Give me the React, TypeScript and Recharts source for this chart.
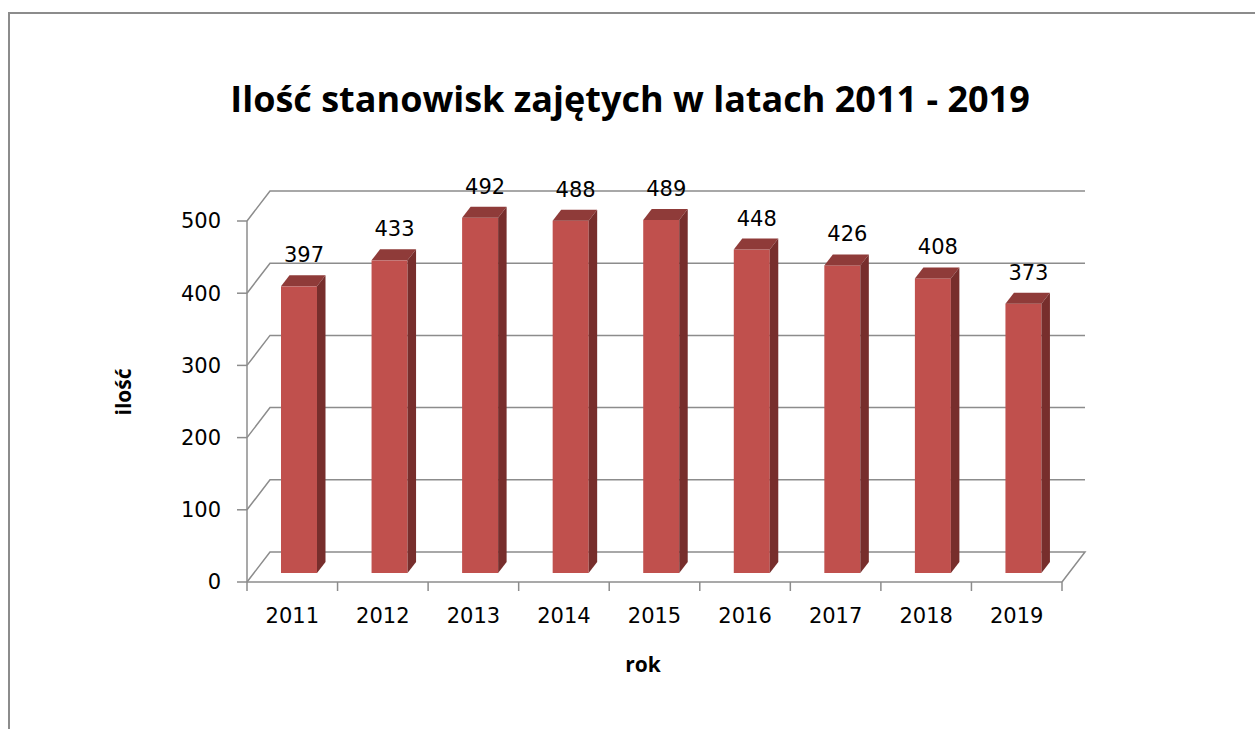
import React from 'react';
import { BarChart, Bar, XAxis, YAxis, CartesianGrid } from 'recharts';

// chart values
const years = ['2011', '2012', '2013', '2014', '2015', '2016', '2017', '2018', '2019'];
const occupied = [397, 433, 492, 488, 489, 448, 426, 408, 373];
const yTicks = [0, 100, 200, 300, 400, 500];

const data = years.map((year, i) => ({ year, value: occupied[i] }));

const W = 1255;
const H = 729;
const MARGIN = { top: 221, right: 193, left: 187, bottom: 117 };
const Y_AXIS_W = 60;
const X_AXIS_H = 30;
const FLOOR_Y = H - MARGIN.bottom - X_AXIS_H;

// 3D depth of the plot box
const DX = 23;
const DY = -30;
// bars sit a bit into the box and have their own depth
const SHIFT_X = 7;
const SHIFT_Y = -9;
const BAR_DX = 8.5;
const BAR_DY = -11;

const GRID = '#8c8c8c';
const FRONT = '#c0504d';
const TOP = '#8f3b39';
const SIDE = '#772e2c';
const TEXT_FONT = 'DejaVu Sans';
const TEXT_SIZE = 21;

const GridLine = (props: any) => {
  const { x1, y1, x2 } = props;
  const by = y1 + DY;
  let d = `M${x1},${y1}L${x1 + DX},${by}L${x2 + DX},${by}`;
  if (Math.abs(y1 - FLOOR_Y) < 1) d += `L${x2},${y1}`;
  return <path key={props.key} d={d} fill="none" stroke={GRID} strokeWidth={1.5} />;
};

const Bar3D = (props: any) => {
  const { x, y, width, height } = props;
  const fx = x + SHIFT_X;
  const fy = y + SHIFT_Y;
  const fr = fx + width;
  const fb = fy + height;
  return (
    <g>
      <rect x={fx} y={fy} width={width} height={height} fill={FRONT} />
      <polygon
        points={`${fx},${fy} ${fx + BAR_DX},${fy + BAR_DY} ${fr + BAR_DX},${fy + BAR_DY} ${fr},${fy}`}
        fill={TOP}
      />
      <polygon
        points={`${fr},${fy} ${fr + BAR_DX},${fy + BAR_DY} ${fr + BAR_DX},${fb + BAR_DY} ${fr},${fb}`}
        fill={SIDE}
      />
    </g>
  );
};

const ValueLabel = (props: any) => {
  const { x, y, width, value } = props;
  return (
    <text
      x={x + SHIFT_X + width / 2 + 5}
      y={y + SHIFT_Y - 31}
      textAnchor="middle"
      dominantBaseline="central"
      fontFamily={TEXT_FONT}
      fontSize={TEXT_SIZE}
      fill="#000"
    >
      {value}
    </text>
  );
};

const YearTick = (props: any) => {
  const { x, y, payload, index } = props;
  const off = payload.offset || 0;
  const axisY = y - 8;
  return (
    <g>
      <line x1={x - off} y1={axisY} x2={x - off} y2={axisY + 9} stroke={GRID} strokeWidth={1.5} />
      {index === years.length - 1 && (
        <line x1={x + off} y1={axisY} x2={x + off} y2={axisY + 9} stroke={GRID} strokeWidth={1.5} />
      )}
      <text
        x={x}
        y={axisY + 34}
        textAnchor="middle"
        dominantBaseline="central"
        fontFamily={TEXT_FONT}
        fontSize={TEXT_SIZE}
        fill="#000"
      >
        {payload.value}
      </text>
    </g>
  );
};

export default function App() {
  return (
    <div
      style={{
        position: 'absolute',
        left: 0,
        top: 0,
        width: W,
        height: H,
        overflow: 'hidden',
        background: '#fff',
      }}
    >
      <div
        style={{
          position: 'absolute',
          left: 8,
          top: 12,
          width: W - 8,
          height: H - 12,
          borderLeft: '2px solid #8c8c8c',
          borderTop: '2px solid #8c8c8c',
          boxSizing: 'border-box',
        }}
      />
      <div
        style={{
          position: 'absolute',
          left: 0,
          width: 1260,
          top: 75,
          textAlign: 'center',
          fontFamily: 'Open Sans',
          fontWeight: 700,
          fontSize: 36,
          lineHeight: '48px',
          color: '#000',
        }}
      >
        Ilość stanowisk zajętych w latach 2011 - 2019
      </div>
      <div
        style={{
          position: 'absolute',
          left: 123,
          top: 392,
          transform: 'translate(-50%, -50%) rotate(-90deg)',
          fontFamily: 'Open Sans',
          fontWeight: 700,
          fontSize: 21,
          color: '#000',
          whiteSpace: 'nowrap',
        }}
      >
        ilość
      </div>
      <div
        style={{
          position: 'absolute',
          left: 643,
          top: 664,
          transform: 'translate(-50%, -50%)',
          fontFamily: 'Open Sans',
          fontWeight: 700,
          fontSize: 21,
          color: '#000',
        }}
      >
        rok
      </div>
      <div style={{ position: 'absolute', left: 0, top: 0 }}>
        <BarChart width={W} height={H} data={data} margin={MARGIN} barSize={36}>
          <CartesianGrid vertical={false} horizontal={GridLine} />
          <XAxis
            dataKey="year"
            height={X_AXIS_H}
            axisLine={{ stroke: GRID, strokeWidth: 1.5 }}
            tickLine={false}
            tickSize={8}
            tickMargin={0}
            tick={YearTick}
            interval={0}
          />
          <YAxis
            width={Y_AXIS_W}
            domain={[0, 500]}
            ticks={yTicks}
            axisLine={{ stroke: GRID, strokeWidth: 1.5 }}
            tickLine={{ stroke: GRID, strokeWidth: 1.5 }}
            tickSize={10}
            tickMargin={16}
            tick={{ fontFamily: TEXT_FONT, fontSize: TEXT_SIZE, fill: '#000' }}
          />
          <Bar dataKey="value" shape={Bar3D} label={ValueLabel} isAnimationActive={false} />
        </BarChart>
      </div>
    </div>
  );
}
